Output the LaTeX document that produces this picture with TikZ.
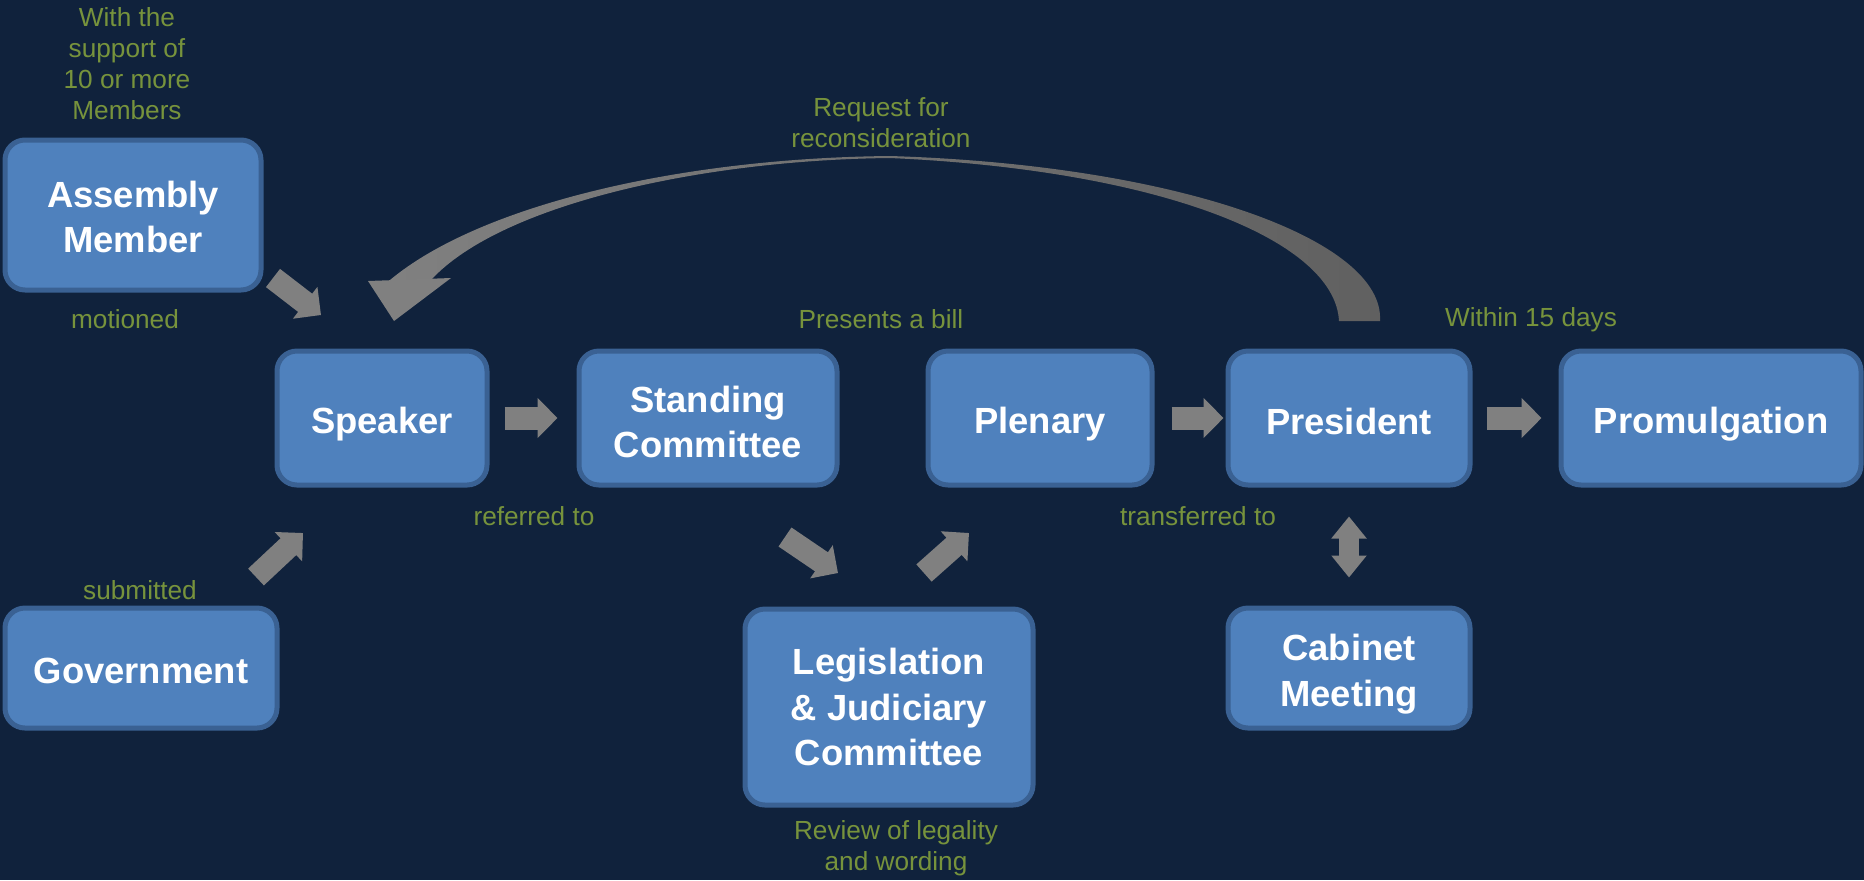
\documentclass[tikz,border=0pt]{standalone}
\usepackage{fontspec}
\setmainfont{Liberation Sans}
\usetikzlibrary{arrows.meta,calc}
\definecolor{bg}{HTML}{10223C}
\definecolor{boxfill}{HTML}{4F81BD}
\definecolor{boxline}{HTML}{3A6193}
\definecolor{lbl}{HTML}{77933C}
\definecolor{arr}{HTML}{808080}
\definecolor{arrdark}{HTML}{606060}
\newcommand\dn[1]{\rule{0pt}{\dimexpr 13.3pt+#1*2\relax}}
\begin{document}
\begin{tikzpicture}[x=0.5pt,y=-0.5pt,
 box/.style={draw=boxline, line width=2.5pt, fill=boxfill, rounded corners=10pt, text=white,
   font=\bfseries\fontsize{18.2}{22.6}\selectfont, align=center, inner sep=0pt},
 lab/.style={text=lbl, font=\fontsize{13.1}{15.5}\selectfont, align=center, inner sep=0pt},
 barrow/.style={draw=arr, line width=11.5pt, -{Triangle[width=19.5pt,length=10pt]}},
 darrow/.style={draw=arr, line width=10pt, {Triangle[width=17pt,length=11pt]}-{Triangle[width=17pt,length=11pt]}},
]
\fill[bg] (0,0) rectangle (1864,880);
\useasboundingbox (0,0) rectangle (1864,880);

% boxes
\node[box, minimum width=128pt, minimum height=75pt] (am) at (133,215) {\dn{0.9pt}Assembly\\Member};
\node[box, minimum width=105pt, minimum height=67pt] (sp) at (382,418) {\dn{3pt}Speaker};
\node[box, minimum width=129pt, minimum height=67pt] (sc) at (708,418) {\dn{1.8pt}Standing\\Committee};
\node[box, minimum width=112pt, minimum height=67pt] (pl) at (1040,418) {\dn{3pt}Plenary};
\node[box, minimum width=121pt, minimum height=67pt] (pr) at (1349,418) {\dn{1.5pt}President};
\node[box, minimum width=150pt, minimum height=67pt] (pm) at (1711,418) {\dn{3pt}Promulgation};
\node[box, minimum width=136pt, minimum height=60pt] (gv) at (141,668) {\dn{1.2pt}Government};
\node[box, minimum width=144pt, minimum height=98pt] (lj) at (889,707) {Legislation\\\& Judiciary\\Committee};
\node[box, minimum width=121pt, minimum height=60pt] (cb) at (1349,668) {\dn{3pt}Cabinet\\Meeting};

% labels
\node[lab] (l1) at (127,64) {With the\\support of\\10 or more\\Members};
\node[lab] (l2) at (125,319) {motioned};
\node[lab] (l3) at (140,590) {submitted};
\node[lab] (l4) at (534,516) {referred to};
\node[lab] (l5) at (881,319) {Presents a bill};
\node[lab] (l6) at (1198,516) {transferred to};
\node[lab] (l7) at (1531,320) {Within 15 days};
\node[lab] (l8) at (896,848) {Review of legality\\and wording};
\node[lab] (l9) at (881,123) {Request for\\reconsideration};

% straight block arrows
\draw[barrow, shorten <=7.5pt, shorten >=9.5pt] (sp.east) -- (sc.west);
\draw[barrow, shorten <=8.5pt, shorten >=1pt] (pl.east) -- (pr.west);
\draw[barrow, shorten <=7pt, shorten >=8.5pt] (pr.east) -- (pm.west);
\draw[darrow, shorten <=14.5pt, shorten >=14pt] (pr.south) -- (cb.north);

% diagonal block arrows
\coordinate (d1a) at (273,278); \coordinate (d1b) at (321,315);
\coordinate (d2a) at (256,577); \coordinate (d2b) at (303,533);
\coordinate (d3a) at (785,537); \coordinate (d3b) at (838,573);
\coordinate (d4a) at (924,573); \coordinate (d4b) at (969,533);
\draw[barrow] (d1a) -- (d1b);
\draw[barrow] (d2a) -- (d2b);
\draw[barrow] (d3a) -- (d3b);
\draw[barrow] (d4a) -- (d4b);

% curved return arrow (President -> Speaker)
\shade[left color=arr, right color=arrdark]
  (390,280) .. controls (480,205) and (680,158) .. (890,156)
  .. controls (1180,165) and (1385,240) .. (1380,321)
  -- (1339,321) .. controls (1335,240) and (1160,170) .. (890,158)
  .. controls (700,160) and (500,205) .. (431,280) -- cycle;
\fill[arr] (368,281) -- (451,278) -- (394,321) -- cycle;
\end{tikzpicture}
\end{document}
